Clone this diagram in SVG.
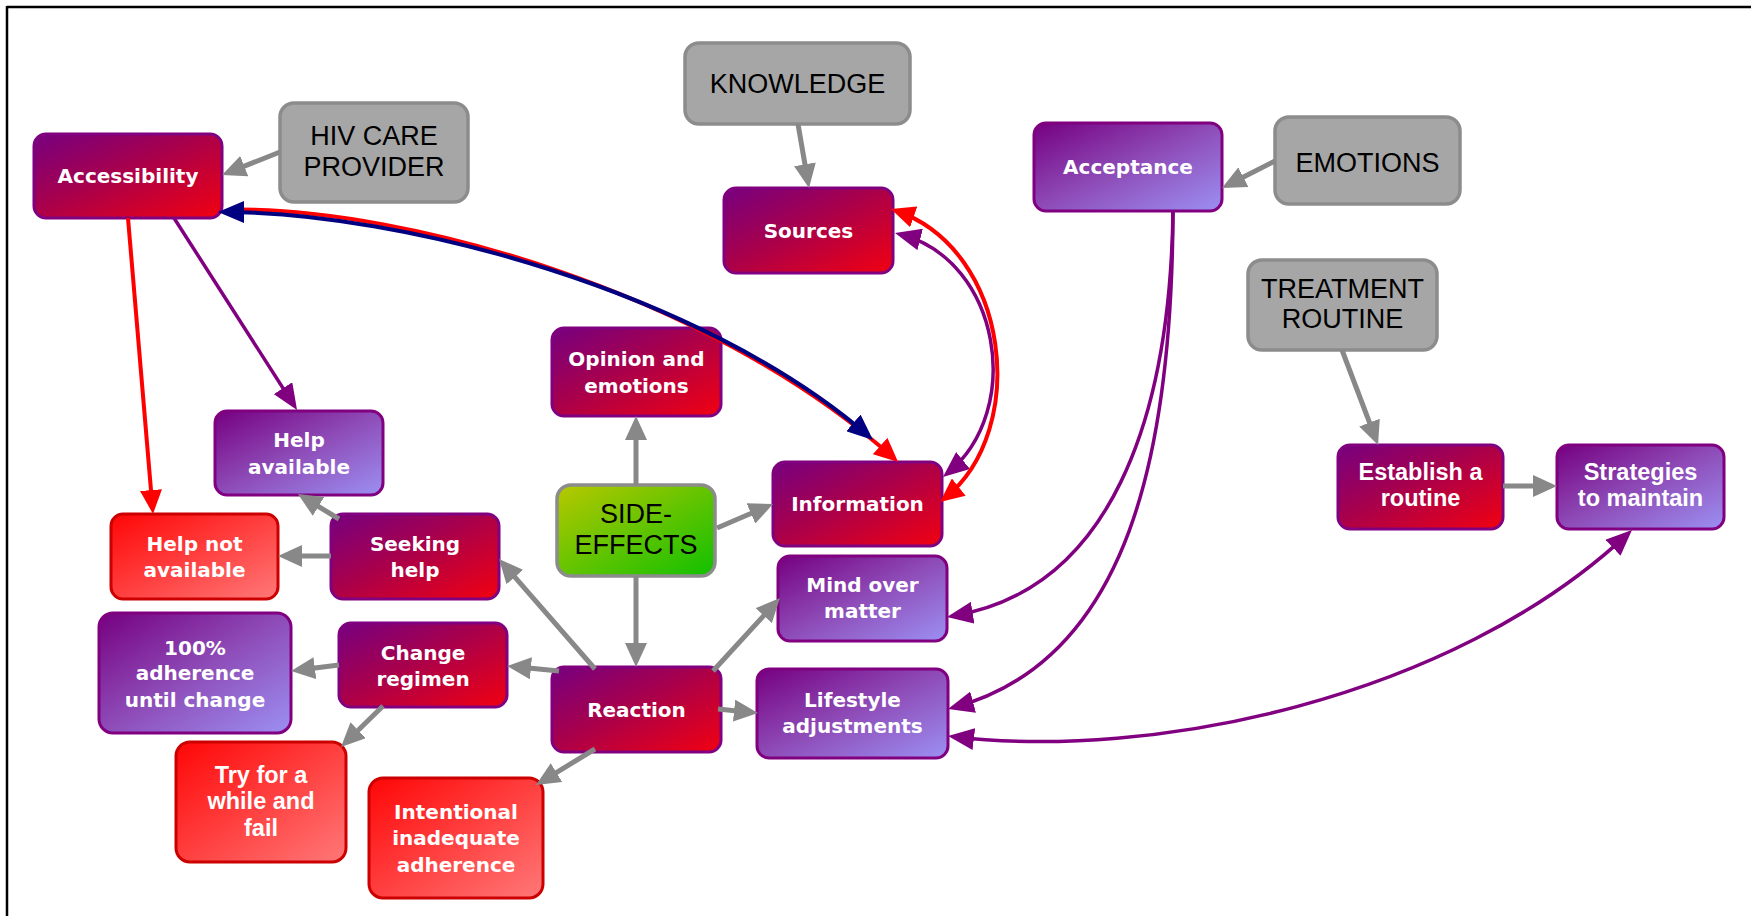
<svg xmlns="http://www.w3.org/2000/svg" width="1751" height="916" viewBox="0 0 1751 916">
<style>
.wt{font-family:"DejaVu Sans",Verdana,sans-serif;font-weight:bold;font-size:20px;fill:#ffffff;text-anchor:middle}
.wn{font-family:"Liberation Sans",Arial,sans-serif;font-weight:bold;font-size:23.5px;fill:#ffffff;text-anchor:middle}
.bt{font-family:"Liberation Sans",Arial,sans-serif;font-size:27px;fill:#000000;text-anchor:middle}
.nr{fill:url(#gRed);stroke:#800080;stroke-width:3}
.nl{fill:url(#gLav);stroke:#800080;stroke-width:3}
.nb{fill:url(#gBright);stroke:#cc0000;stroke-width:3}
.ng{fill:#a6a6a6;stroke:#8c8c8c;stroke-width:3.5}
.ngr{fill:url(#gGreen);stroke:#8c8c8c;stroke-width:3.5}
.cg{fill:none;stroke:#888888;stroke-width:5;marker-end:url(#aGray)}
.cr{fill:none;stroke:#ff0000;stroke-width:4}
.cb{fill:none;stroke:#000080;stroke-width:4}
.cp{fill:none;stroke:#800080;stroke-width:3.5}
</style>
<defs>
<linearGradient id="gRed" x1="0" y1="0" x2="1" y2="1">
<stop offset="0" stop-color="#760080"/><stop offset="0.45" stop-color="#a8004c"/><stop offset="1" stop-color="#f20010"/>
</linearGradient>
<linearGradient id="gLav" x1="0" y1="0" x2="1" y2="1">
<stop offset="0" stop-color="#760080"/><stop offset="0.5" stop-color="#8e4cb8"/><stop offset="1" stop-color="#9c90f2"/>
</linearGradient>
<linearGradient id="gBright" x1="0" y1="0" x2="1" y2="1">
<stop offset="0" stop-color="#ff0606"/><stop offset="1" stop-color="#ff7878"/>
</linearGradient>
<linearGradient id="gGreen" x1="0" y1="0" x2="1" y2="1">
<stop offset="0" stop-color="#b8c800"/><stop offset="1" stop-color="#10c000"/>
</linearGradient>
<marker id="aGray" markerUnits="userSpaceOnUse" markerWidth="24" markerHeight="22" refX="18" refY="11" orient="auto-start-reverse"><path d="M0,0 L24,11 L0,22 z" fill="#888888"/></marker>
<marker id="aRed" markerUnits="userSpaceOnUse" markerWidth="24" markerHeight="22" refX="18" refY="11" orient="auto-start-reverse"><path d="M0,0 L24,11 L0,22 z" fill="#ff0000"/></marker>
<marker id="aBlue" markerUnits="userSpaceOnUse" markerWidth="26" markerHeight="22" refX="20" refY="11" orient="auto-start-reverse"><path d="M0,0 L26,11 L0,22 z" fill="#000080"/></marker>
<marker id="aPurp" markerUnits="userSpaceOnUse" markerWidth="26" markerHeight="22" refX="20" refY="11" orient="auto-start-reverse"><path d="M0,0 L26,11 L0,22 z" fill="#800080"/></marker>
</defs>
<rect x="0" y="0" width="1751" height="916" fill="#ffffff"/>
<g id="frame" stroke="#000000" stroke-width="2.5" fill="none">
<line x1="7" y1="7" x2="1751" y2="7"/>
<line x1="7" y1="6" x2="7" y2="916"/>
</g>

<g id="nodes">
<g id="n-accessibility"><rect class="nr" x="34" y="134" width="188" height="84" rx="12"/><text class="wt" x="128" y="183">Accessibility</text></g>
<g id="n-hiv"><rect class="ng" x="280" y="103" width="188" height="99" rx="14"/><text class="bt" x="374" y="145">HIV CARE</text><text class="bt" x="374" y="176">PROVIDER</text></g>
<g id="n-knowledge"><rect class="ng" x="685" y="43" width="225" height="81" rx="14"/><text class="bt" x="797.5" y="93">KNOWLEDGE</text></g>
<g id="n-sources"><rect class="nr" x="724" y="188" width="169" height="85" rx="12"/><text class="wt" x="808.5" y="238">Sources</text></g>
<g id="n-acceptance"><rect class="nl" x="1034" y="123" width="188" height="88" rx="12"/><text class="wt" x="1128" y="174">Acceptance</text></g>
<g id="n-emotions"><rect class="ng" x="1275" y="117" width="185" height="87" rx="14"/><text class="bt" x="1367.5" y="172">EMOTIONS</text></g>
<g id="n-treatment"><rect class="ng" x="1248" y="260" width="189" height="90" rx="14"/><text class="bt" x="1342.5" y="298">TREATMENT</text><text class="bt" x="1342.5" y="328">ROUTINE</text></g>
<g id="n-establish"><rect class="nr" x="1338" y="445" width="165" height="84" rx="12"/><text class="wn" x="1420.5" y="480">Establish a</text><text class="wn" x="1420.5" y="506">routine</text></g>
<g id="n-strategies"><rect class="nl" x="1557" y="445" width="167" height="84" rx="12"/><text class="wn" x="1640.5" y="480">Strategies</text><text class="wn" x="1640.5" y="506">to maintain</text></g>
<g id="n-opinion"><rect class="nr" x="552" y="328" width="169" height="88" rx="12"/><text class="wt" x="636.5" y="366">Opinion and</text><text class="wt" x="636.5" y="393">emotions</text></g>
<g id="n-side"><rect class="ngr" x="557" y="485" width="158" height="91" rx="14"/><text class="bt" x="636" y="523">SIDE-</text><text class="bt" x="636" y="554">EFFECTS</text></g>
<g id="n-information"><rect class="nr" x="773" y="462" width="169" height="84" rx="12"/><text class="wt" x="857.5" y="511">Information</text></g>
<g id="n-mind"><rect class="nl" x="778" y="556" width="169" height="85" rx="12"/><text class="wt" x="862.5" y="592">Mind over</text><text class="wt" x="862.5" y="618">matter</text></g>
<g id="n-lifestyle"><rect class="nl" x="757" y="669" width="191" height="89" rx="12"/><text class="wt" x="852.5" y="707">Lifestyle</text><text class="wt" x="852.5" y="733">adjustments</text></g>
<g id="n-reaction"><rect class="nr" x="552" y="667" width="169" height="85" rx="12"/><text class="wt" x="636.5" y="717">Reaction</text></g>
<g id="n-helpavail"><rect class="nl" x="215" y="411" width="168" height="84" rx="12"/><text class="wt" x="299" y="447">Help</text><text class="wt" x="299" y="474">available</text></g>
<g id="n-helpnot"><rect class="nb" x="111" y="514" width="167" height="85" rx="12"/><text class="wt" x="194.5" y="551">Help not</text><text class="wt" x="194.5" y="577">available</text></g>
<g id="n-seeking"><rect class="nr" x="331" y="514" width="168" height="85" rx="12"/><text class="wt" x="415" y="551">Seeking</text><text class="wt" x="415" y="577">help</text></g>
<g id="n-100"><rect class="nl" x="99" y="613" width="192" height="120" rx="14"/><text class="wt" x="195" y="655">100%</text><text class="wt" x="195" y="680">adherence</text><text class="wt" x="195" y="707">until change</text></g>
<g id="n-change"><rect class="nr" x="339" y="623" width="168" height="84" rx="12"/><text class="wt" x="423" y="660">Change</text><text class="wt" x="423" y="686">regimen</text></g>
<g id="n-try"><rect class="nb" x="176" y="742" width="170" height="120" rx="14"/><text class="wn" x="261" y="783">Try for a</text><text class="wn" x="261" y="809">while and</text><text class="wn" x="261" y="836">fail</text></g>
<g id="n-intentional"><rect class="nb" x="369" y="778" width="174" height="120" rx="14"/><text class="wt" x="456" y="819">Intentional</text><text class="wt" x="456" y="845">inadequate</text><text class="wt" x="456" y="872">adherence</text></g>
</g>

<g id="connectors">
<path class="cg" d="M280,152 L227.6,172.8"/>
<path class="cg" d="M798,124 L808,182"/>
<path class="cg" d="M1275,161 L1227.3,185.3"/>
<path class="cg" d="M1342,350 L1375.9,439.4"/>
<path class="cg" d="M1503,486 L1551,486"/>
<path class="cg" d="M636,485 L636,422"/>
<path class="cg" d="M636,576 L636,661"/>
<path class="cg" d="M717,528 L767.5,506.4"/>
<path class="cg" d="M713,671 L775.9,602.4"/>
<path class="cg" d="M718,709 L752,712.4"/>
<path class="cg" d="M595,669 L503,563.5"/>
<path class="cg" d="M559,671 L513,666.6"/>
<path class="cg" d="M595,749 L541.1,781.9"/>
<path class="cg" d="M331,556 L284,556"/>
<path class="cg" d="M339,519 L303.1,497.1"/>
<path class="cg" d="M339,665 L297,670.3"/>
<path class="cg" d="M383,706 L345.3,742.8"/>
<path class="cr" d="M128,218 L152.5,508" marker-end="url(#aRed)"/>
<path class="cp" d="M174,218 L293.8,405" marker-end="url(#aPurp)"/>
<path class="cr" d="M240,209.5 C401.5,209.5 701.5,287.5 893.6,458" marker-end="url(#aRed)"/>
<path class="cb" d="M224,212 C400,212 700,290 868.5,436" marker-start="url(#aBlue)" marker-end="url(#aBlue)"/>
<path class="cp" d="M900.8,234.5 C1000,260 1025,410 947.6,473.2" marker-start="url(#aPurp)" marker-end="url(#aPurp)"/>
<path class="cr" d="M896.7,211 C1010,250 1030,430 944.7,498.3" marker-start="url(#aRed)" marker-end="url(#aRed)"/>
<path class="cp" d="M1173,211 C1170,420 1110,590 952.9,616" marker-end="url(#aPurp)"/>
<path class="cp" d="M1173,211 C1172,450 1130,660 953.8,707.4" marker-end="url(#aPurp)"/>
<path class="cp" d="M954,736.7 C1150,760 1450,700 1627.6,534.1" marker-start="url(#aPurp)" marker-end="url(#aPurp)"/>
</g>
</svg>
